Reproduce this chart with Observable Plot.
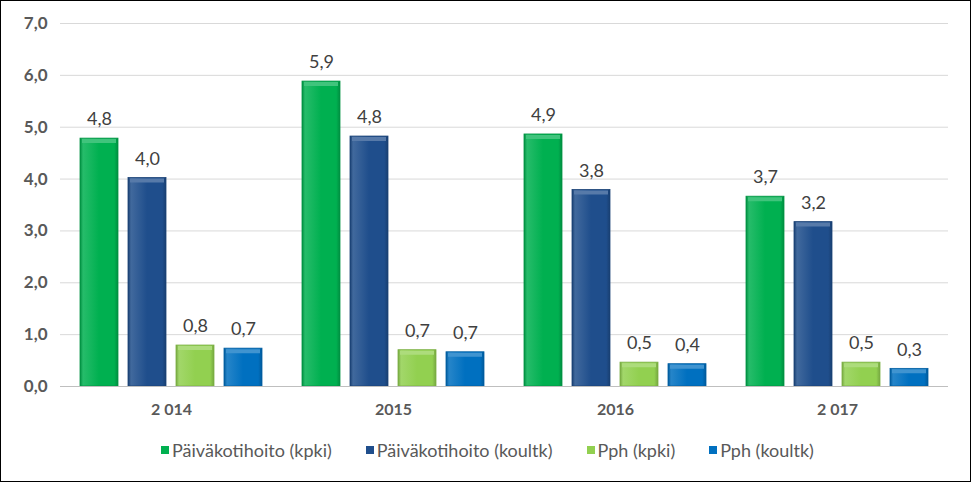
<!DOCTYPE html>
<html><head><meta charset="utf-8">
<script src="https://cdn.jsdelivr.net/npm/d3@7"></script>
<script src="https://cdn.jsdelivr.net/npm/@observablehq/plot@0.6"></script>
<style>
body{margin:0;background:#fff;}
#chart{width:971px;height:482px;box-sizing:border-box;border:1px solid #000;position:relative;overflow:hidden;font-family:Lato,"Open Sans",sans-serif;background:#fff;}
#chart svg.plot{position:absolute;left:0;top:0;}
#legend{position:absolute;top:438px;left:0;right:0;display:flex;justify-content:center;gap:34px;font-size:18px;color:#595959;font-family:Lato,sans-serif;padding-left:4px;}
#legend .it{display:flex;align-items:center;}
.sw{display:inline-block;width:8px;height:8px;margin-right:3px;}
</style></head><body>
<svg width="0" height="0" style="position:absolute">
<defs id="defs"></defs>
</svg>
<div id="chart"><div id="legend"></div></div>
<script>
const years = ["2 014", "2015", "2016", "2 017"];
const seriesNames = ["Päiväkotihoito (kpki)", "Päiväkotihoito (koultk)", "Pph (kpki)", "Pph (koultk)"];
const seriesColors = ["#00b050", "#1f4e8c", "#92d050", "#0070c0"];
const paivakotiKpki = [4.78, 5.88, 4.86, 3.66];
const paivakotiKoultk = [4.02, 4.82, 3.79, 3.17];
const pphKpki = [0.79, 0.70, 0.46, 0.46];
const pphKoultk = [0.73, 0.66, 0.43, 0.34];
const yTicks = [0, 1, 2, 3, 4, 5, 6, 7];

const seriesValues = [paivakotiKpki, paivakotiKoultk, pphKpki, pphKoultk];
const data = [];
years.forEach((y, yi) => seriesNames.forEach((s, si) => data.push({year: y, series: s, si, value: seriesValues[si][yi]})));

const fmt = v => v.toFixed(1).replace(".", ",");

// gradients for bevel look
const defs = document.getElementById("defs");
seriesColors.forEach((c, i) => {
  const base = d3.color(c);
  const dark = base.darker(0.6).formatHex();
  const light = d3.interpolateRgb(c, "#ffffff")(0.15);
  defs.insertAdjacentHTML("beforeend",
    `<linearGradient id="g${i}" x1="0" x2="1" y1="0" y2="0">
      <stop offset="0" stop-color="${dark}"/>
      <stop offset="0.08" stop-color="${light}"/>
      <stop offset="0.5" stop-color="${c}"/>
      <stop offset="0.9" stop-color="${c}"/>
      <stop offset="1" stop-color="${dark}"/>
    </linearGradient>`);
});

const plot = Plot.plot({
  width: 969,
  height: 432,
  marginTop: 22,
  marginLeft: 57,
  marginRight: 21,
  marginBottom: 47,
  style: {fontFamily: "Lato, 'Open Sans', sans-serif", background: "transparent"},
  fx: {domain: years, padding: 0, label: null},
  x: {domain: seriesNames, paddingInner: 0.2, paddingOuter: 0.385, axis: null},
  y: {domain: [0, 7], label: null},
  marks: [
    Plot.gridY(yTicks, {stroke: "#d9d9d9", strokeOpacity: 1}),
    Plot.axisY(yTicks, {tickSize: 0, tickPadding: 13, tickFormat: fmt, fontSize: 17, fontWeight: "bold", fill: "#595959", label: null}),
    Plot.axisFx({anchor: "bottom", tickSize: 0, tickPadding: 17, fontSize: 16, fontWeight: "bold", fill: "#595959", label: null}),
    ...seriesNames.map((s, i) => Plot.barY(data.filter(d => d.si === i), {
      fx: "year", x: "series", y: "value", fill: `url(#g${i})`, stroke: d3.color(seriesColors[i]).darker(0.5).formatHex(), strokeWidth: 0.8
    })),
    ...seriesNames.map((s, i) => Plot.tickY(data.filter(d => d.si === i), {
      fx: "year", x: "series", y: "value", dy: 2.5, strokeWidth: 4, insetLeft: 2, insetRight: 2,
      stroke: d3.interpolateRgb(seriesColors[i], "#ffffff")(0.25)
    })),
    Plot.ruleY([0], {stroke: "#bfbfbf"}),
    Plot.text(data, {fx: "year", x: "series", y: "value", text: d => fmt(d.value), dy: -19, fontSize: 18, fill: "#404040"})
  ]
});
document.getElementById("chart").prepend(plot);

const legend = document.getElementById("legend");
seriesNames.forEach((s, i) => {
  legend.insertAdjacentHTML("beforeend", `<span class="it"><span class="sw" style="background:${seriesColors[i]}"></span>${s}</span>`);
});
</script>
</body></html>
